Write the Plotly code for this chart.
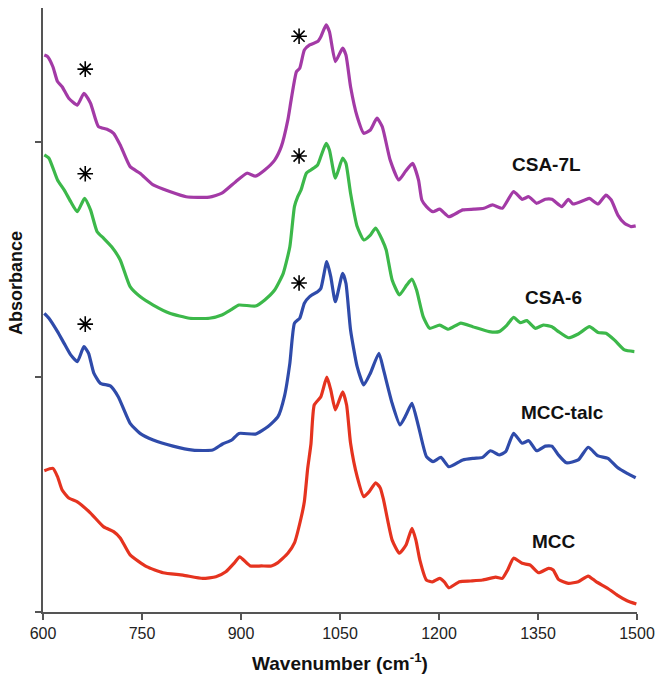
import plotly.graph_objects as go

# ---------------- data ----------------
series_names = ["MCC", "MCC-talc", "CSA-6", "CSA-7L"]
series_colors = ["#E5331F", "#2F4BAA", "#3CB84A", "#A33AA6"]

mcc_x = [602, 615, 622, 629, 639, 652, 672, 692, 707, 717, 732, 757, 782, 812, 842, 862, 877, 890, 898, 904,
         914, 931, 946, 956, 971, 981, 991, 996, 1001, 1006, 1011, 1021, 1030, 1036, 1043, 1054, 1060, 1066,
         1076, 1086, 1094, 1104, 1111, 1116, 1129, 1140, 1150, 1159, 1165, 1171, 1181, 1190, 1201, 1208, 1215,
         1231, 1248, 1266, 1286, 1296, 1304, 1313, 1326, 1338, 1351, 1366, 1373, 1381, 1396, 1411, 1426, 1438,
         1456, 1470, 1485, 1499]
mcc_y = [0.601, 0.611, 0.576, 0.519, 0.485, 0.469, 0.421, 0.362, 0.342, 0.315, 0.243, 0.193, 0.167, 0.157,
         0.143, 0.150, 0.171, 0.209, 0.235, 0.221, 0.196, 0.196, 0.196, 0.210, 0.250, 0.294, 0.400, 0.470,
         0.610, 0.715, 0.881, 0.916, 0.999, 0.945, 0.860, 0.937, 0.881, 0.718, 0.576, 0.491, 0.511, 0.550,
         0.528, 0.477, 0.306, 0.250, 0.285, 0.356, 0.306, 0.221, 0.136, 0.128, 0.143, 0.128, 0.103, 0.129,
         0.132, 0.136, 0.148, 0.143, 0.179, 0.229, 0.207, 0.200, 0.167, 0.186, 0.179, 0.139, 0.122, 0.129,
         0.153, 0.129, 0.100, 0.072, 0.048, 0.034]

talc_x = [602, 609, 622, 632, 642, 652, 662, 669, 677, 687, 702, 714, 732, 747, 767, 797, 827, 857, 872, 886,
          897, 922, 941, 956, 966, 974, 981, 989, 996, 1004, 1016, 1021, 1030, 1036, 1043, 1054, 1059, 1066,
          1076, 1086, 1096, 1109, 1116, 1129, 1141, 1150, 1159, 1169, 1181, 1191, 1203, 1215, 1236, 1253,
          1266, 1278, 1291, 1301, 1313, 1326, 1336, 1348, 1361, 1371, 1381, 1393, 1411, 1426, 1441, 1456,
          1470, 1485, 1498]
talc_y = [1.271, 1.250, 1.193, 1.143, 1.094, 1.065, 1.129, 1.101, 1.016, 0.973, 0.962, 0.916, 0.803, 0.760,
          0.732, 0.706, 0.689, 0.689, 0.715, 0.732, 0.760, 0.757, 0.789, 0.831, 0.920, 1.058, 1.229, 1.250,
          1.314, 1.342, 1.363, 1.377, 1.491, 1.427, 1.320, 1.441, 1.399, 1.200, 1.044, 0.966, 1.016, 1.101,
          1.030, 0.888, 0.796, 0.838, 0.888, 0.789, 0.661, 0.640, 0.658, 0.618, 0.647, 0.654, 0.658, 0.686,
          0.668, 0.682, 0.760, 0.718, 0.729, 0.686, 0.706, 0.706, 0.668, 0.635, 0.647, 0.701, 0.664, 0.654,
          0.616, 0.590, 0.571]

csa6_x = [602, 609, 622, 632, 642, 652, 663, 672, 682, 692, 704, 717, 732, 747, 767, 792, 822, 852, 871, 886,
          897, 922, 936, 951, 964, 974, 981, 986, 991, 999, 1006, 1016, 1021, 1029, 1034, 1043, 1054, 1059,
          1066, 1076, 1086, 1096, 1104, 1114, 1120, 1129, 1140, 1151, 1159, 1166, 1176, 1186, 1201, 1214,
          1233, 1251, 1276, 1291, 1303, 1313, 1323, 1333, 1346, 1358, 1371, 1381, 1396, 1411, 1428, 1441,
          1453, 1466, 1481, 1496]
csa6_y = [1.945, 1.931, 1.838, 1.796, 1.746, 1.703, 1.760, 1.711, 1.618, 1.590, 1.554, 1.498, 1.384, 1.342,
          1.306, 1.271, 1.250, 1.250, 1.264, 1.288, 1.306, 1.302, 1.328, 1.370, 1.441, 1.554, 1.725, 1.767,
          1.796, 1.867, 1.881, 1.902, 1.938, 1.994, 1.966, 1.846, 1.931, 1.909, 1.782, 1.640, 1.583, 1.604,
          1.633, 1.583, 1.540, 1.413, 1.349, 1.391, 1.416, 1.370, 1.257, 1.207, 1.221, 1.203, 1.229, 1.214,
          1.193, 1.193, 1.221, 1.254, 1.231, 1.240, 1.207, 1.221, 1.214, 1.193, 1.167, 1.183, 1.214, 1.189,
          1.186, 1.157, 1.115, 1.108]

csa7_x = [602, 607, 615, 622, 629, 639, 652, 662, 672, 684, 697, 707, 717, 732, 747, 767, 792, 817, 852, 871,
          892, 909, 922, 936, 951, 961, 971, 976, 984, 989, 996, 1004, 1016, 1021, 1029, 1034, 1043, 1054,
          1059, 1066, 1076, 1086, 1096, 1106, 1114, 1126, 1139, 1149, 1160, 1169, 1174, 1181, 1191, 1201,
          1215, 1236, 1253, 1268, 1281, 1296, 1313, 1326, 1336, 1348, 1361, 1371, 1386, 1396, 1403, 1421,
          1428, 1441, 1453, 1461, 1471, 1481, 1491, 1498]
csa7_y = [2.370, 2.363, 2.320, 2.257, 2.235, 2.186, 2.157, 2.207, 2.165, 2.065, 2.054, 2.037, 1.987, 1.895,
          1.867, 1.817, 1.789, 1.767, 1.765, 1.782, 1.831, 1.867, 1.855, 1.881, 1.923, 1.980, 2.094, 2.179,
          2.299, 2.314, 2.391, 2.413, 2.427, 2.448, 2.498, 2.469, 2.342, 2.399, 2.370, 2.235, 2.108, 2.037,
          2.051, 2.101, 2.065, 1.923, 1.838, 1.874, 1.909, 1.838, 1.753, 1.725, 1.703, 1.714, 1.682, 1.711,
          1.714, 1.718, 1.732, 1.718, 1.789, 1.756, 1.767, 1.739, 1.756, 1.756, 1.725, 1.756, 1.736, 1.753,
          1.760, 1.736, 1.774, 1.753, 1.689, 1.654, 1.640, 1.643]

# asterisk markers (wavenumber, absorbance)
star_x = [664, 988, 664, 988, 664, 988]
star_y = [2.310, 2.450, 1.865, 1.940, 1.225, 1.400]

# curve labels (wavenumber, absorbance)
label_x = [1374, 1387, 1374, 1363]
label_y = [0.302, 0.847, 1.340, 1.902]

x_ticks = [600, 750, 900, 1050, 1200, 1350, 1500]
y_ticks = [0, 1, 2]

# ---------------- figure ----------------
fig = go.Figure()
all_x = [mcc_x, talc_x, csa6_x, csa7_x]
all_y = [mcc_y, talc_y, csa6_y, csa7_y]
for name, col, xs, ys in zip(series_names, series_colors, all_x, all_y):
    fig.add_trace(go.Scatter(x=xs, y=ys, mode="lines", name=name,
                             line=dict(color=col, width=3.2, shape="spline", smoothing=0.5),
                             showlegend=False, hoverinfo="skip"))

fig.add_trace(go.Scatter(x=star_x, y=star_y, mode="markers", showlegend=False, hoverinfo="skip",
                         marker=dict(symbol="asterisk-open", size=13, color="black",
                                     line=dict(color="black", width=1.6))))

FONT = "Liberation Sans, Arial, Helvetica, sans-serif"
for name, lx, ly in zip(series_names, label_x, label_y):
    fig.add_annotation(x=lx, y=ly, text="<b>" + name + "</b>", showarrow=False,
                       font=dict(family=FONT, size=19, color="#111111"),
                       xanchor="center", yanchor="middle")

fig.add_annotation(xref="paper", yref="paper", x=-0.045, y=0.545, text="<b>Absorbance</b>",
                   textangle=-90, showarrow=False, xanchor="center", yanchor="middle",
                   font=dict(family=FONT, size=18, color="#111111"))

fig.update_layout(
    width=663, height=679,
    margin=dict(l=43, r=21, t=8, b=67),
    paper_bgcolor="white", plot_bgcolor="white",
    font=dict(family=FONT, color="#222222"),
    xaxis=dict(range=[600, 1500], tickvals=x_ticks, ticktext=[str(v) for v in x_ticks],
               showgrid=False, zeroline=False, showline=True, linecolor="#555555", linewidth=1.5,
               ticks="outside", ticklen=6, tickwidth=1.5, tickcolor="#555555",
               tickfont=dict(family=FONT, size=16, color="#222222"),
               title=dict(text="<b>Wavenumber (cm<sup>-1</sup>)</b>", standoff=16,
                          font=dict(family=FONT, size=19, color="#111111"))),
    yaxis=dict(range=[0, 2.57], tickvals=y_ticks, showticklabels=False,
               showgrid=False, zeroline=False, showline=True, linecolor="#555555", linewidth=1.5,
               ticks="outside", ticklen=6, tickwidth=1.5, tickcolor="#555555"),
)

fig.write_html("out.html", config={"displayModeBar": False},
               post_script="document.body.style.margin='0';document.body.style.overflow='hidden';")
